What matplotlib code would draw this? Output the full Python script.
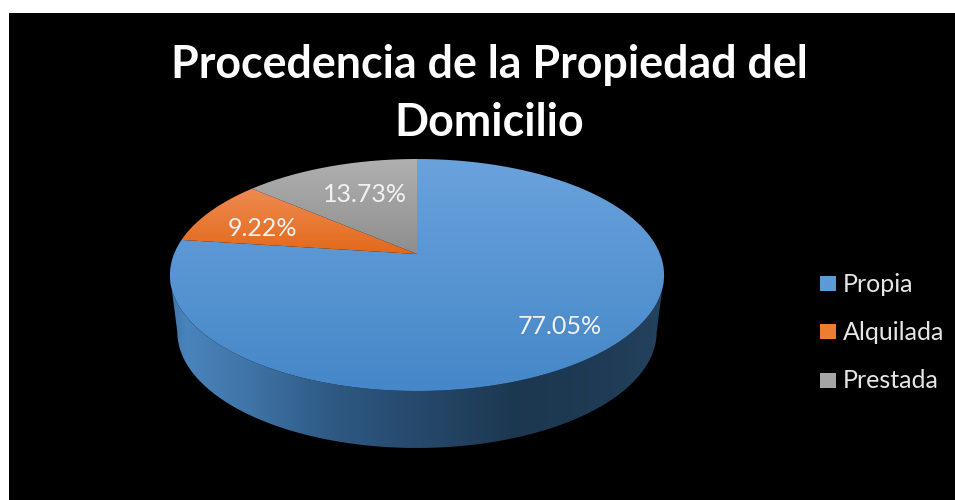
import numpy as np
import matplotlib
matplotlib.use("Agg")
import matplotlib.pyplot as plt
from matplotlib.path import Path
from matplotlib.patches import PathPatch, Rectangle
from matplotlib.colors import LinearSegmentedColormap

title_lines = ["Procedencia de la Propiedad del", "Domicilio"]
categories = ["Propia", "Alquilada", "Prestada"]
shares = [77.05, 9.22, 13.73]
labels = ["77.05%", "9.22%", "13.73%"]
colors = ["#5B9BD5", "#ED7D31", "#A5A5A5"]

W, H = 955, 500
fig = plt.figure(figsize=(W / 100, H / 100), dpi=100, facecolor="white")
ax = fig.add_axes([0, 0, 1, 1])
ax.set_xlim(0, W)
ax.set_ylim(H, 0)
ax.axis("off")
ax.add_patch(Rectangle((9, 13), W - 9, H - 13, fc="black", ec="none", zorder=0))

CX, CY, B, A, K, DEPTH = 417, 254, 243.0, 112.2, 0.181, 57


def project(theta):
    """Map clockwise-from-top pie angle to picture position (perspective disc)."""
    u, v = np.sin(theta), np.cos(theta)
    d = 1 + K * v
    return CX + B * u / d, CY - A * v / d


def grad_fill(path, img, extent, cmap, zorder):
    patch = PathPatch(path, fc="none", ec="none", transform=ax.transData)
    ax.add_patch(patch)
    im = ax.imshow(img, extent=extent, cmap=cmap, aspect="auto", zorder=zorder,
                   vmin=0, vmax=1, interpolation="bilinear")
    im.set_clip_path(patch)
    ax.set_xlim(0, W)
    ax.set_ylim(H, 0)


# side wall of the disc: lower rim of the top face, then a slightly narrower rim below
t = np.linspace(0, 2 * np.pi, 721)
rx, ry = project(t)
i_l, i_r = np.argmin(rx), np.argmax(rx)
idx = np.arange(i_r, i_l + 1)
sx = rx[idx]
sy = ry[idx]
bx = CX + (sx - CX) * 0.97
verts = np.r_[np.c_[sx, sy], np.c_[bx[::-1], sy[::-1] + DEPTH], [[sx[0], sy[0]]]]
side_path = Path(verts)
side_cmap = LinearSegmentedColormap.from_list(
    "side",
    [(0.0, "#3f75a8"), (0.03, "#4a84bc"), (0.16, "#3f74a6"), (0.32, "#2f5a85"),
     (0.51, "#26486a"), (0.71, "#1c374f"), (0.87, "#1f3b55"), (1.0, "#24425f")],
)
grad_fill(side_path, np.linspace(0, 1, 256)[None, :], (170, 664, 460, 230), side_cmap, 2)

# top surface
edges = np.deg2rad(np.r_[0, np.cumsum(shares)] * 3.6)
tops = ["#6AA2DC", "#EE8B52", "#B0B0B0"]
bots = ["#4587C8", "#E3691A", "#8E8E8E"]
for i, col in enumerate(colors):
    th = np.linspace(edges[i], edges[i + 1], 300)
    px, py = project(th)
    v = np.r_[[[CX, CY]], np.c_[px, py], [[CX, CY]]]
    cm = LinearSegmentedColormap.from_list(f"c{i}", [tops[i], bots[i]])
    grad_fill(Path(v), np.linspace(0, 1, 256)[:, None],
              (170, 664, v[:, 1].max(), v[:, 1].min()), cm, 3 + i)

# value labels
label_pos = [(560, 327), (262, 228), (365, 195)]
for s, (x, y) in zip(labels, label_pos):
    ax.text(x, y, s, color="#F2F2F2", fontsize=18, family="Lato", ha="center", va="center", zorder=10)

# title
for s, y in zip(title_lines, (65, 123)):
    ax.text(489.5, y, s, color="white", fontsize=32.2, family="Lato", weight="bold",
            ha="center", va="center", zorder=10)

# legend
leg_y = [283.5, 331.5, 380]
for c, name, y in zip(colors, categories, leg_y):
    ax.add_patch(Rectangle((820, y - 7.5), 16, 15, fc=c, ec="none", zorder=10))
    ax.text(843, y + 0.5, name, color="#E6E6E6", fontsize=18, family="Lato", ha="left", va="center", zorder=10)

fig.savefig("out.png", dpi=100, facecolor="white")
